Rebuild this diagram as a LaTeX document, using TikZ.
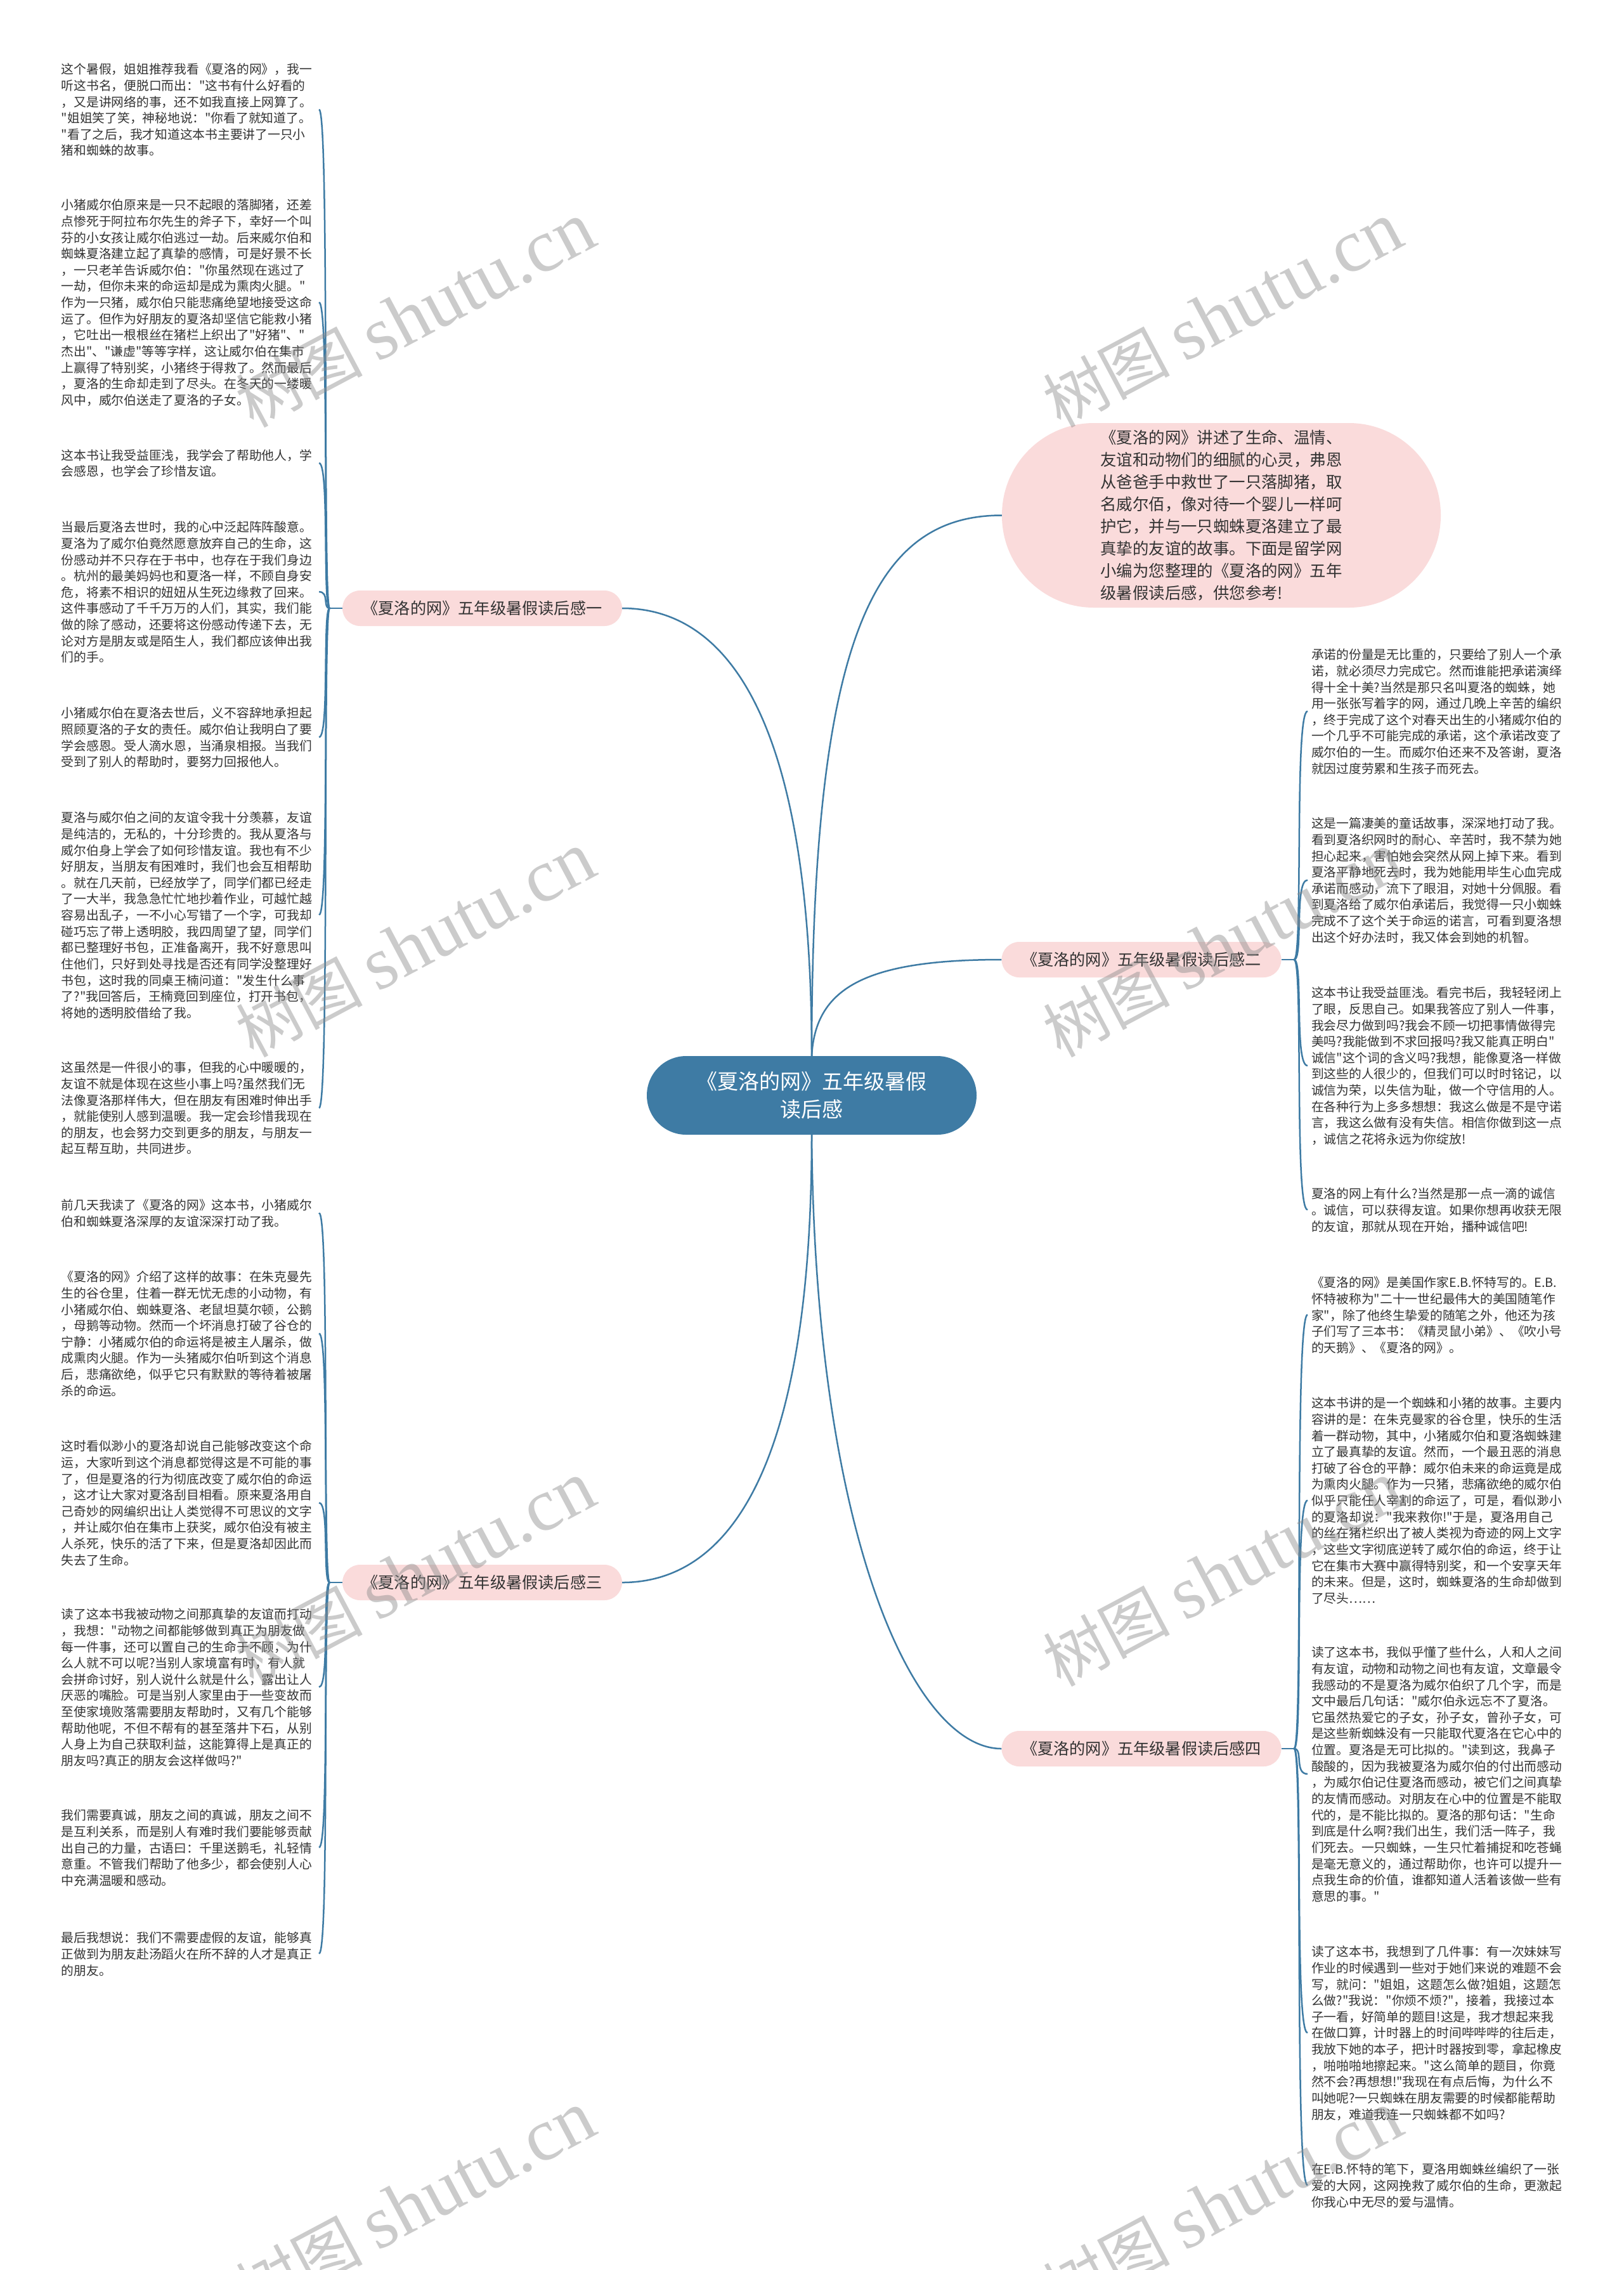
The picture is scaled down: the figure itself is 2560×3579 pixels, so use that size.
\documentclass[tikz,border=0pt]{standalone}
\usepackage{fontspec}
\setmainfont{Noto Sans CJK SC}[Ligatures=TeXOff]
\newfontfamily\wmserif{Liberation Serif}
\usetikzlibrary{calc}
\definecolor{linec}{HTML}{3E7BA4}
\definecolor{pinkc}{HTML}{FADBDB}
\definecolor{txtc}{HTML}{333333}
\newcommand\leaffont{\fontsize{19.75pt}{25.65pt}\selectfont}
\newcommand\firstl{\rule{0pt}{18pt}}
\newcommand\connl[2]{\draw[conn] (#1) .. controls ($(#1)+(-11.3,0)$) and (#1 |- #2.east) .. (#2.east);}
\newcommand\connr[2]{\draw[conn] (#1) .. controls ($(#1)+(14.7,0)$) and (#1 |- #2.west) .. (#2.west);}
\begin{document}
\begin{tikzpicture}[x=1pt,y=-1pt,
  conn/.style={draw=linec, line width=2.5pt},
  leafl/.style={anchor=north west, inner xsep=11pt, inner ysep=0pt, text width=395pt, align=left, font=\leaffont, text=txtc},
  leafr/.style={anchor=north west, inner xsep=6pt, inner ysep=0pt, text width=395pt, align=left, font=\leaffont, text=txtc},
  pill/.style={fill=pinkc, rounded corners=28pt, minimum width=441pt, minimum height=56pt, inner sep=0pt, font=\fontsize{25.2pt}{30pt}\selectfont, text=txtc},
  centerbox/.style={fill=linec, rounded corners=62pt, minimum width=520pt, minimum height=124pt, inner sep=0pt, text=white, align=center, font=\fontsize{33pt}{44pt}\selectfont},
  bubblebox/.style={fill=pinkc, rounded corners=145pt, minimum width=692pt, minimum height=291pt, inner sep=0pt, text width=381pt, align=left, text=txtc, font=\fontsize{25.4pt}{35pt}\selectfont},
  wm/.style={text=black!45, text opacity=0.45, inner sep=0pt}]
\fill[white] (0,0) rectangle (2560,3579);
\useasboundingbox (0,0) rectangle (2560,3579);

% central and first-level nodes
\node[centerbox] (c) at (1280,1727) {《夏洛的网》五年级暑假\\读后感};
\node[bubblebox] (bubble) at (1926,812.5) {《夏洛的网》讲述了生命、温情、\\
友谊和动物们的细腻的心灵，弗恩\\
从爸爸手中救世了一只落脚猪，取\\
名威尔佰，像对待一个婴儿一样呵\\
护它，并与一只蜘蛛夏洛建立了最\\
真挚的友谊的故事。下面是留学网\\
小编为您整理的《夏洛的网》五年\\
级暑假读后感，供您参考!};
\node[pill] (p1) at (760.5,959) {《夏洛的网》五年级暑假读后感一};
\node[pill] (p2) at (1800,1513) {《夏洛的网》五年级暑假读后感二};
\node[pill] (p3) at (760.5,2495) {《夏洛的网》五年级暑假读后感三};
\node[pill] (p4) at (1800,2757) {《夏洛的网》五年级暑假读后感四};

% left leaves, branch one
\node[leafl] (b1) at (85.7,98.5) {\firstl 这个暑假，姐姐推荐我看《夏洛的网》，我一\\
听这书名，便脱口而出："这书有什么好看的\\
，又是讲网络的事，还不如我直接上网算了。\\
"姐姐笑了笑，神秘地说："你看了就知道了。\\
"看了之后，我才知道这本书主要讲了一只小\\
猪和蜘蛛的故事。};
\node[leafl] (b2) at (85.7,312.5) {\firstl 小猪威尔伯原来是一只不起眼的落脚猪，还差\\
点惨死于阿拉布尔先生的斧子下，幸好一个叫\\
芬的小女孩让威尔伯逃过一劫。后来威尔伯和\\
蜘蛛夏洛建立起了真挚的感情，可是好景不长\\
，一只老羊告诉威尔伯："你虽然现在逃过了\\
一劫，但你未来的命运却是成为熏肉火腿。"\\
作为一只猪，威尔伯只能悲痛绝望地接受这命\\
运了。但作为好朋友的夏洛却坚信它能救小猪\\
，它吐出一根根丝在猪栏上织出了"好猪"、"\\
杰出"、"谦虚"等等字样，这让威尔伯在集市\\
上赢得了特别奖，小猪终于得救了。然而最后\\
，夏洛的生命却走到了尽头。在冬天的一缕暖\\
风中，威尔伯送走了夏洛的子女。};
\node[leafl] (b3) at (85.7,707) {\firstl 这本书让我受益匪浅，我学会了帮助他人，学\\
会感恩，也学会了珍惜友谊。};
\node[leafl] (b4) at (85.7,820.5) {\firstl 当最后夏洛去世时，我的心中泛起阵阵酸意。\\
夏洛为了威尔伯竟然愿意放弃自己的生命，这\\
份感动并不只存在于书中，也存在于我们身边\\
。杭州的最美妈妈也和夏洛一样，不顾自身安\\
危，将素不相识的妞妞从生死边缘救了回来。\\
这件事感动了千千万万的人们，其实，我们能\\
做的除了感动，还要将这份感动传递下去，无\\
论对方是朋友或是陌生人，我们都应该伸出我\\
们的手。};
\node[leafl] (b5) at (85.7,1113.5) {\firstl 小猪威尔伯在夏洛去世后，义不容辞地承担起\\
照顾夏洛的子女的责任。威尔伯让我明白了要\\
学会感恩。受人滴水恩，当涌泉相报。当我们\\
受到了别人的帮助时，要努力回报他人。};
\node[leafl] (b6) at (85.7,1278.5) {\firstl 夏洛与威尔伯之间的友谊令我十分羡慕，友谊\\
是纯洁的，无私的，十分珍贵的。我从夏洛与\\
威尔伯身上学会了如何珍惜友谊。我也有不少\\
好朋友，当朋友有困难时，我们也会互相帮助\\
。就在几天前，已经放学了，同学们都已经走\\
了一大半，我急急忙忙地抄着作业，可越忙越\\
容易出乱子，一不小心写错了一个字，可我却\\
碰巧忘了带上透明胶，我四周望了望，同学们\\
都已整理好书包，正准备离开，我不好意思叫\\
住他们，只好到处寻找是否还有同学没整理好\\
书包，这时我的同桌王楠问道："发生什么事\\
了?"我回答后，王楠竟回到座位，打开书包，\\
将她的透明胶借给了我。};
\node[leafl] (b7) at (85.7,1672.5) {\firstl 这虽然是一件很小的事，但我的心中暖暖的，\\
友谊不就是体现在这些小事上吗?虽然我们无\\
法像夏洛那样伟大，但在朋友有困难时伸出手\\
，就能使别人感到温暖。我一定会珍惜我现在\\
的朋友，也会努力交到更多的朋友，与朋友一\\
起互帮互助，共同进步。};

% left leaves, branch three
\node[leafl] (b8) at (85.7,1889.5) {\firstl 前几天我读了《夏洛的网》这本书，小猪威尔\\
伯和蜘蛛夏洛深厚的友谊深深打动了我。};
\node[leafl] (b9) at (85.7,2002.5) {\firstl 《夏洛的网》介绍了这样的故事：在朱克曼先\\
生的谷仓里，住着一群无忧无虑的小动物，有\\
小猪威尔伯、蜘蛛夏洛、老鼠坦莫尔顿，公鹅\\
，母鹅等动物。然而一个坏消息打破了谷仓的\\
宁静：小猪威尔伯的命运将是被主人屠杀，做\\
成熏肉火腿。作为一头猪威尔伯听到这个消息\\
后，悲痛欲绝，似乎它只有默默的等待着被屠\\
杀的命运。};
\node[leafl] (b10) at (85.7,2269.5) {\firstl 这时看似渺小的夏洛却说自己能够改变这个命\\
运，大家听到这个消息都觉得这是不可能的事\\
了，但是夏洛的行为彻底改变了威尔伯的命运\\
，这才让大家对夏洛刮目相看。原来夏洛用自\\
己奇妙的网编织出让人类觉得不可思议的文字\\
，并让威尔伯在集市上获奖，威尔伯没有被主\\
人杀死，快乐的活了下来，但是夏洛却因此而\\
失去了生命。};
\node[leafl] (b11) at (85.7,2534.5) {\firstl 读了这本书我被动物之间那真挚的友谊而打动\\
，我想："动物之间都能够做到真正为朋友做\\
每一件事，还可以置自己的生命于不顾，为什\\
么人就不可以呢?当别人家境富有时，有人就\\
会拼命讨好，别人说什么就是什么，露出让人\\
厌恶的嘴脸。可是当别人家里由于一些变故而\\
至使家境败落需要朋友帮助时，又有几个能够\\
帮助他呢，不但不帮有的甚至落井下石，从别\\
人身上为自己获取利益，这能算得上是真正的\\
朋友吗?真正的朋友会这样做吗?"};
\node[leafl] (b12) at (85.7,2851.5) {\firstl 我们需要真诚，朋友之间的真诚，朋友之间不\\
是互利关系，而是别人有难时我们要能够贡献\\
出自己的力量，古语曰：千里送鹅毛，礼轻情\\
意重。不管我们帮助了他多少，都会使别人心\\
中充满温暖和感动。};
\node[leafl] (b13) at (85.7,3044.5) {\firstl 最后我想说：我们不需要虚假的友谊，能够真\\
正做到为朋友赴汤蹈火在所不辞的人才是真正\\
的朋友。};

% right leaves, branch two
\node[leafr] (r1) at (2062,1021.5) {\firstl 承诺的份量是无比重的，只要给了别人一个承\\
诺，就必须尽力完成它。然而谁能把承诺演绎\\
得十全十美?当然是那只名叫夏洛的蜘蛛，她\\
用一张张写着字的网，通过几晚上辛苦的编织\\
，终于完成了这个对春天出生的小猪威尔伯的\\
一个几乎不可能完成的承诺，这个承诺改变了\\
威尔伯的一生。而威尔伯还来不及答谢，夏洛\\
就因过度劳累和生孩子而死去。};
\node[leafr] (r2) at (2062,1287.5) {\firstl 这是一篇凄美的童话故事，深深地打动了我。\\
看到夏洛织网时的耐心、辛苦时，我不禁为她\\
担心起来，害怕她会突然从网上掉下来。看到\\
夏洛平静地死去时，我为她能用毕生心血完成\\
承诺而感动，流下了眼泪，对她十分佩服。看\\
到夏洛给了威尔伯承诺后，我觉得一只小蜘蛛\\
完成不了这个关于命运的诺言，可看到夏洛想\\
出这个好办法时，我又体会到她的机智。};
\node[leafr] (r3) at (2062,1554.5) {\firstl 这本书让我受益匪浅。看完书后，我轻轻闭上\\
了眼，反思自己。如果我答应了别人一件事，\\
我会尽力做到吗?我会不顾一切把事情做得完\\
美吗?我能做到不求回报吗?我又能真正明白"\\
诚信"这个词的含义吗?我想，能像夏洛一样做\\
到这些的人很少的，但我们可以时时铭记，以\\
诚信为荣，以失信为耻，做一个守信用的人。\\
在各种行为上多多想想：我这么做是不是守诺\\
言，我这么做有没有失信。相信你做到这一点\\
，诚信之花将永远为你绽放!};
\node[leafr] (r4) at (2062,1871.5) {\firstl 夏洛的网上有什么?当然是那一点一滴的诚信\\
。诚信，可以获得友谊。如果你想再收获无限\\
的友谊，那就从现在开始，播种诚信吧!};

% right leaves, branch four
\node[leafr] (r5) at (2062,2011.5) {\firstl 《夏洛的网》是美国作家E.B.怀特写的。E.B.\\
怀特被称为"二十一世纪最伟大的美国随笔作\\
家"，除了他终生挚爱的随笔之外，他还为孩\\
子们写了三本书：《精灵鼠小弟》、《吹小号\\
的天鹅》、《夏洛的网》。};
\node[leafr] (r6) at (2062,2201.5) {\firstl 这本书讲的是一个蜘蛛和小猪的故事。主要内\\
容讲的是：在朱克曼家的谷仓里，快乐的生活\\
着一群动物，其中，小猪威尔伯和夏洛蜘蛛建\\
立了最真挚的友谊。然而，一个最丑恶的消息\\
打破了谷仓的平静：威尔伯未来的命运竟是成\\
为熏肉火腿。作为一只猪，悲痛欲绝的威尔伯\\
似乎只能任人宰割的命运了，可是，看似渺小\\
的夏洛却说："我来救你!"于是，夏洛用自己\\
的丝在猪栏织出了被人类视为奇迹的网上文字\\
，这些文字彻底逆转了威尔伯的命运，终于让\\
它在集市大赛中赢得特别奖，和一个安享天年\\
的未来。但是，这时，蜘蛛夏洛的生命却做到\\
了尽头……};
\node[leafr] (r7) at (2062,2594.5) {\firstl 读了这本书，我似乎懂了些什么，人和人之间\\
有友谊，动物和动物之间也有友谊，文章最令\\
我感动的不是夏洛为威尔伯织了几个字，而是\\
文中最后几句话："威尔伯永远忘不了夏洛。\\
它虽然热爱它的子女，孙子女，曾孙子女，可\\
是这些新蜘蛛没有一只能取代夏洛在它心中的\\
位置。夏洛是无可比拟的。"读到这，我鼻子\\
酸酸的，因为我被夏洛为威尔伯的付出而感动\\
，为威尔伯记住夏洛而感动，被它们之间真挚\\
的友情而感动。对朋友在心中的位置是不能取\\
代的，是不能比拟的。夏洛的那句话："生命\\
到底是什么啊?我们出生，我们活一阵子，我\\
们死去。一只蜘蛛，一生只忙着捕捉和吃苍蝇\\
是毫无意义的，通过帮助你，也许可以提升一\\
点我生命的价值，谁都知道人活着该做一些有\\
意思的事。"};
\node[leafr] (r8) at (2062,3066.5) {\firstl 读了这本书，我想到了几件事：有一次妹妹写\\
作业的时候遇到一些对于她们来说的难题不会\\
写，就问："姐姐，这题怎么做?姐姐，这题怎\\
么做?"我说："你烦不烦?"，接着，我接过本\\
子一看，好简单的题目!这是，我才想起来我\\
在做口算，计时器上的时间哔哔哔的往后走，\\
我放下她的本子，把计时器按到零，拿起橡皮\\
，啪啪啪地擦起来。"这么简单的题目，你竟\\
然不会?再想想!"我现在有点后悔，为什么不\\
叫她呢?一只蜘蛛在朋友需要的时候都能帮助\\
朋友，难道我连一只蜘蛛都不如吗?};
\node[leafr] (r9) at (2062,3409.5) {\firstl 在E.B.怀特的笔下，夏洛用蜘蛛丝编织了一张\\
爱的大网，这网挽救了威尔伯的生命，更激起\\
你我心中无尽的爱与温情。};

% connectors from the centre
\draw[conn] (c.north) .. controls (1280,1000) and (1380,812.5) .. (bubble.west);
\draw[conn] (c.north) .. controls (1286,1560) and (1360,1513) .. (p2.west);
\draw[conn] (c.north) .. controls (1280,1100) and (1130,959) .. (p1.east);
\draw[conn] (c.south) .. controls (1280,2354) and (1130,2495) .. (p3.east);
\draw[conn] (c.south) .. controls (1285,2418) and (1440,2757) .. (p4.west);

% stubs
\draw[conn] (p1.west) -- ++(-20,0) coordinate (s1);
\draw[conn] (p3.west) -- ++(-20,0) coordinate (s3);
\draw[conn] (p2.east) -- ++(20,0) coordinate (s2);
\draw[conn] (p4.east) -- ++(20,0) coordinate (s4);

% leaf connectors
\connl{s1}{b1}\connl{s1}{b2}\connl{s1}{b3}\connl{s1}{b4}\connl{s1}{b5}\connl{s1}{b6}\connl{s1}{b7}
\connl{s3}{b8}\connl{s3}{b9}\connl{s3}{b10}\connl{s3}{b11}\connl{s3}{b12}\connl{s3}{b13}
\connr{s2}{r1}\connr{s2}{r2}\connr{s2}{r3}\connr{s2}{r4}
\connr{s4}{r5}\connr{s4}{r6}\connr{s4}{r7}\connr{s4}{r8}\connr{s4}{r9}

% watermarks
\foreach \wx/\wy [count=\i] in {655/497,1928/497,655/1490,1928/1490,655/2482,1928/2482,655/3475,1928/3475}{
  \node[wm, rotate=28] (wm\i) at (\wx,\wy) {\fontsize{100pt}{110pt}\selectfont 树图 {\wmserif\fontsize{118pt}{120pt}\selectfont shutu.cn}};
}
\end{tikzpicture}
\end{document}
